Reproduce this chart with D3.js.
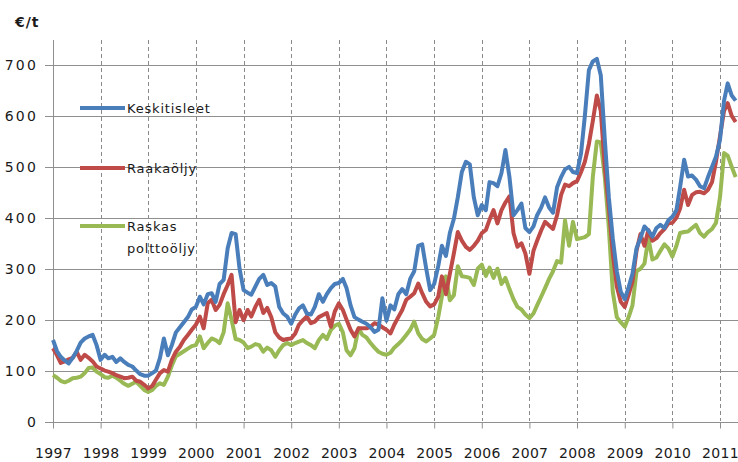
<!DOCTYPE html>
<html>
<head>
<meta charset="utf-8">
<script src="https://cdn.jsdelivr.net/npm/d3@7"></script>
<style>
  body { margin: 0; background: #fff; }
  svg { display: block; font-family: "DejaVu Sans", sans-serif; }
</style>
</head>
<body>
<svg width="738" height="462"></svg>
<script>
// monthly prices, €/t, starting January 1997
const startYear = 1997;
const keskitisleet = [
  160,138,127,120,114,125,138,155,163,167,170,150,
  121,131,124,127,117,124,117,111,108,100,93,90,
  90,95,100,125,163,130,150,175,185,195,205,220,
  225,245,230,250,252,235,270,278,340,370,368,300,
  258,253,249,265,280,288,268,272,265,225,212,206,
  192,210,222,228,212,210,225,250,235,250,262,270,
  272,280,262,228,205,200,196,192,185,176,180,242,
  198,228,220,250,260,250,280,295,345,348,300,258,
  270,305,345,325,370,398,440,490,510,505,440,405,
  425,415,470,468,462,488,533,480,405,415,428,380,
  372,383,405,420,440,420,410,460,480,495,500,490,
  488,527,600,690,707,712,680,553,440,360,295,255,
  240,265,290,340,360,383,375,363,380,386,380,395,
  402,415,460,514,481,483,475,462,458,480,500,520,
  553,630,664,640,630
];
const raakaoljy = [
  144,130,115,118,122,125,137,121,131,125,118,108,
  104,100,98,95,91,88,85,86,88,80,78,72,
  65,70,82,95,101,98,121,137,147,160,170,180,
  190,206,183,232,239,219,229,250,268,288,195,219,
  199,219,206,225,239,213,223,205,175,165,160,162,
  163,173,190,199,206,193,196,205,209,213,186,216,
  232,219,200,180,167,183,183,183,186,193,190,185,
  180,173,190,205,219,239,245,252,271,252,235,226,
  230,245,285,250,290,330,372,355,343,337,345,355,
  370,376,396,415,389,415,430,442,370,343,350,330,
  290,335,355,375,392,385,378,405,445,465,462,468,
  472,490,510,545,590,640,610,500,420,330,265,235,
  225,250,275,335,368,345,376,355,360,370,378,389,
  390,400,418,455,425,445,450,451,448,455,470,510,
  560,610,625,600,588
];
const raskasPolttooljy = [
  91,86,80,77,80,85,86,88,95,105,106,98,
  93,87,86,90,86,80,74,70,74,78,70,62,
  58,62,70,75,72,88,110,128,133,138,143,148,
  150,167,144,154,163,160,154,175,232,200,162,160,
  155,144,147,152,150,137,145,140,127,140,150,154,
  150,154,157,160,154,150,144,160,170,162,180,188,
  192,175,140,130,144,183,170,165,154,145,137,133,
  131,135,145,152,160,170,180,196,173,162,157,163,
  170,205,245,285,238,248,305,285,284,282,268,300,
  308,286,302,282,300,270,282,260,240,225,220,210,
  203,212,228,245,262,280,295,315,312,395,345,392,
  358,360,362,368,480,550,548,480,380,255,205,195,
  186,206,228,295,300,310,360,318,322,335,348,340,
  324,345,370,372,373,380,386,370,363,372,378,390,
  440,527,522,500,480
];
const seriesNames = ["Keskitisleet", "Raakaöljy", ["Raskas", "polttoöljy"]];
const seriesColors = ["#4a7ebb", "#be4b48", "#98b954"];
const yTicks = [0, 100, 200, 300, 400, 500, 600, 700];

const svg = d3.select("svg"),
  width = 738;

const x = d3.scaleTime()
  .domain([new Date(1997, 0, 1), new Date(2011, 0, 1)])
  .range([53, 720]);
const y = d3.scaleLinear().domain([0, 700]).range([421.5, 65]);

// horizontal grid
svg.append("g")
  .selectAll("line")
  .data(yTicks)
  .enter().append("line")
  .attr("x1", 45).attr("x2", width)
  .attr("y1", d => Math.round(y(d)) + 0.5).attr("y2", d => Math.round(y(d)) + 0.5)
  .attr("stroke", "#8f8f8f").attr("stroke-width", 1);

// vertical dashed grid
const years = x.ticks(d3.timeYear.every(1));
svg.append("g")
  .selectAll("line")
  .data(years.slice(1))
  .enter().append("line")
  .attr("x1", d => Math.round(x(d)) + 0.5).attr("x2", d => Math.round(x(d)) + 0.5)
  .attr("y1", 40).attr("y2", 421)
  .attr("stroke", "#8a8a8a").attr("stroke-dasharray", "4,3");

// left axis line
svg.append("line")
  .attr("x1", 53.5).attr("x2", 53.5).attr("y1", 40).attr("y2", 427)
  .attr("stroke", "#8f8f8f");

// x axis ticks and labels
const xAxis = svg.append("g")
  .attr("transform", `translate(0,${Math.round(y(0)) + 0.5})`)
  .call(d3.axisBottom(x).ticks(d3.timeYear.every(1)).tickFormat(d3.timeFormat("%Y")).tickSize(6).tickPadding(20));
xAxis.select(".domain").remove();
xAxis.selectAll("line").attr("stroke", "#8f8f8f");
xAxis.selectAll("text")
  .attr("font-size", 14).attr("fill", "#1a1a1a")
  .style("font-family", "DejaVu Sans").attr("letter-spacing", 0.3);

// y labels
svg.append("g")
  .selectAll("text")
  .data(yTicks)
  .enter().append("text")
  .attr("x", 38).attr("y", d => y(d) + 5)
  .attr("text-anchor", "end")
  .attr("font-size", 14).attr("letter-spacing", 2.2).attr("fill", "#1a1a1a")
  .text(d => d);

svg.append("text")
  .attr("x", 15).attr("y", 27)
  .attr("font-size", 14).attr("font-weight", "bold").attr("fill", "#1a1a1a")
  .attr("letter-spacing", 1)
  .text("€/t");

// series lines
const line = d3.line()
  .x((d, i) => x(d3.timeMonth.offset(new Date(startYear, 0, 1), i)))
  .y(d => y(d));

svg.append("clipPath").attr("id", "clip")
  .append("rect").attr("x", 0).attr("y", 0).attr("width", width).attr("height", 462);

const allSeries = [raskasPolttooljy, raakaoljy, keskitisleet];
const drawColors = [seriesColors[2], seriesColors[1], seriesColors[0]];
svg.append("g").attr("clip-path", "url(#clip)")
  .selectAll("path")
  .data(allSeries)
  .enter().append("path")
  .attr("d", line)
  .attr("fill", "none")
  .attr("stroke", (d, i) => drawColors[i])
  .attr("stroke-width", 4)
  .attr("stroke-linejoin", "round");

// legend
const legendY = [108, 168, 226];
const legend = svg.append("g");
seriesNames.forEach((name, i) => {
  legend.append("line")
    .attr("x1", 80).attr("x2", 125)
    .attr("y1", legendY[i]).attr("y2", legendY[i])
    .attr("stroke", seriesColors[i]).attr("stroke-width", 4);
  const names = Array.isArray(name) ? name : [name];
  names.forEach((t, j) => {
    legend.append("text")
      .attr("x", 127).attr("y", legendY[i] + 5 + j * 22)
      .attr("font-size", 13).attr("letter-spacing", 0.8).attr("fill", "#1a1a1a")
      .text(t);
  });
});
</script>
</body>
</html>
